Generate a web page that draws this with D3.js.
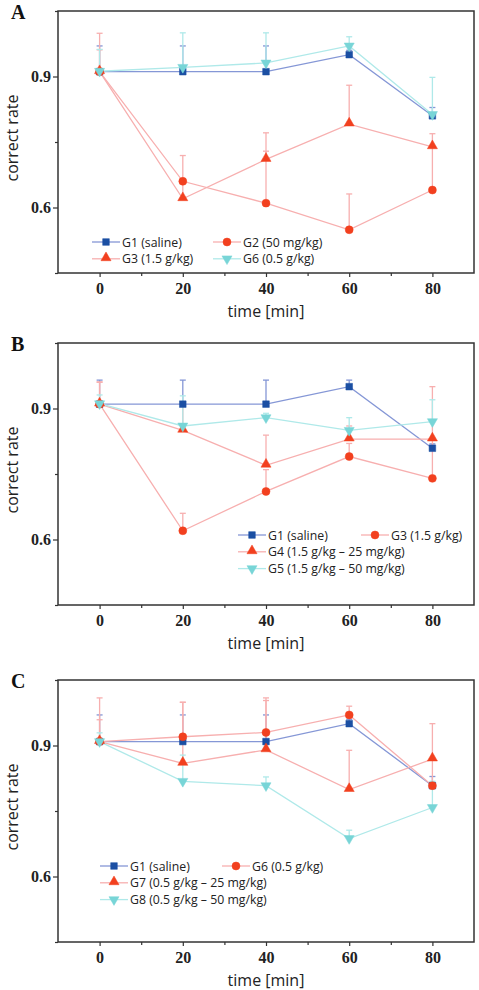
<!DOCTYPE html>
<html>
<head>
<meta charset="utf-8">
<script src="https://cdn.jsdelivr.net/npm/d3@7"></script>
<style>
  body { margin: 0; background: #fff; }
  svg { display: block; }
  .tick-label { font-family: "Liberation Serif", "DejaVu Serif", serif; font-weight: bold; font-size: 16px; fill: #222; }
  .axis-title { font-family: "Open Sans", "Noto Sans", sans-serif; font-size: 16px; fill: #222; }
  .legend-text { font-family: "Open Sans", "Noto Sans", sans-serif; font-size: 12.3px; fill: #222; }
  .panel-label { font-family: "Liberation Serif", "DejaVu Serif", serif; font-size: 20px; font-weight: bold; fill: #111; }
</style>
</head>
<body>
<svg id="chart" width="479" height="990"></svg>
<script>
const times = [0, 20, 40, 60, 80];
const xTicks = [0, 20, 40, 60, 80];
const yTicks = [0.6, 0.9];

// panel A
const A_G1 = [0.911, 0.911, 0.911, 0.950, 0.810];
const A_G1_err = [0.059, 0.059, 0.059, 0.010, 0.019];
const A_G2 = [0.911, 0.660, 0.610, 0.549, 0.640];
const A_G2_err = [0.088, 0.059, 0.119, 0.082, 0.100];
const A_G3 = [0.911, 0.620, 0.710, 0.791, 0.739];
const A_G3_err = [0.050, 0.040, 0.061, 0.089, 0.030];
const A_G6 = [0.912, 0.921, 0.931, 0.970, 0.813];
const A_G6_err = [0.050, 0.079, 0.069, 0.021, 0.085];

// panel B
const B_G1 = [0.910, 0.910, 0.910, 0.950, 0.809];
const B_G1_err = [0.055, 0.055, 0.055, 0.015, 0.010];
const B_G3 = [0.910, 0.620, 0.710, 0.790, 0.740];
const B_G3_err = [0.050, 0.040, 0.050, 0.030, 0.090];
const B_G4 = [0.910, 0.850, 0.770, 0.830, 0.830];
const B_G4_err = [0.051, 0.060, 0.069, 0.030, 0.120];
const B_G5 = [0.911, 0.860, 0.879, 0.850, 0.870];
const B_G5_err = [0.020, 0.069, 0.010, 0.029, 0.050];

// panel C
const C_G1 = [0.909, 0.909, 0.909, 0.950, 0.808];
const C_G1_err = [0.061, 0.061, 0.061, 0.010, 0.021];
const C_G6 = [0.909, 0.920, 0.930, 0.970, 0.808];
const C_G6_err = [0.100, 0.079, 0.079, 0.020, 0.060];
const C_G7 = [0.909, 0.859, 0.890, 0.799, 0.869];
const C_G7_err = [0.050, 0.140, 0.113, 0.090, 0.081];
const C_G8 = [0.909, 0.818, 0.808, 0.687, 0.758];
const C_G8_err = [0.020, 0.060, 0.020, 0.019, 0.060];

const style = {
    blue: {marker: "#1b4fa3", line: "#8597d6"},
    red: {marker: "#f2401f", line: "#f7afaf"},
    cyan: {marker: "#78d5d7", line: "#afe9e9"}
};

const panels = [
    {label: "A", top: 11,
     series: [
        {name: "G1 (saline)", values: A_G1, err: A_G1_err, color: style.blue, shape: "square"},
        {name: "G2 (50 mg/kg)", values: A_G2, err: A_G2_err, color: style.red, shape: "circle"},
        {name: "G3 (1.5 g/kg)", values: A_G3, err: A_G3_err, color: style.red, shape: "up"},
        {name: "G6 (0.5 g/kg)", values: A_G6, err: A_G6_err, color: style.cyan, shape: "down"}],
     legend: {x: 92, y: 242, col2: 213, rows: [[0, 1], [2, 3]]}},
    {label: "B", top: 343,
     series: [
        {name: "G1 (saline)", values: B_G1, err: B_G1_err, color: style.blue, shape: "square"},
        {name: "G3 (1.5 g/kg)", values: B_G3, err: B_G3_err, color: style.red, shape: "circle"},
        {name: "G4 (1.5 g/kg – 25 mg/kg)", values: B_G4, err: B_G4_err, color: style.red, shape: "up"},
        {name: "G5 (1.5 g/kg – 50 mg/kg)", values: B_G5, err: B_G5_err, color: style.cyan, shape: "down"}],
     legend: {x: 238, y: 535, col2: 361, rows: [[0, 1], [2], [3]]}},
    {label: "C", top: 680,
     series: [
        {name: "G1 (saline)", values: C_G1, err: C_G1_err, color: style.blue, shape: "square"},
        {name: "G6 (0.5 g/kg)", values: C_G6, err: C_G6_err, color: style.red, shape: "circle"},
        {name: "G7 (0.5 g/kg – 25 mg/kg)", values: C_G7, err: C_G7_err, color: style.red, shape: "up"},
        {name: "G8 (0.5 g/kg – 50 mg/kg)", values: C_G8, err: C_G8_err, color: style.cyan, shape: "down"}],
     legend: {x: 100, y: 866, col2: 222, rows: [[0, 1], [2], [3]]}}
];

const svg = d3.select("#chart");
const plotLeft = 58, plotWidth = 416, plotHeight = 262;

const symbolFor = {
    square: d3.symbol().type(d3.symbolSquare).size(44),
    circle: d3.symbol().type(d3.symbolCircle).size(50),
    up: d3.symbol().type(d3.symbolTriangle).size(44),
    down: d3.symbol().type(d3.symbolTriangle).size(44)
};

function drawMarker(g, shape, color, cx, cy) {
    g.append("path")
        .attr("d", symbolFor[shape]())
        .attr("transform", `translate(${cx},${cy})${shape === "down" ? " rotate(180)" : ""}${shape === "up" ? " translate(0,-1)" : ""}`)
        .attr("fill", color)
        .attr("stroke", color)
        .attr("stroke-width", 0.5);
}

function drawPanel(p) {
    const g = svg.append("g").attr("transform", `translate(${plotLeft},${p.top})`);
    const x = d3.scaleLinear().domain([-10, 90]).range([0, plotWidth]);
    const y = d3.scaleLinear().domain([0.45, 1.05]).range([plotHeight, 0]);

    // frame
    g.append("rect")
        .attr("width", plotWidth).attr("height", plotHeight)
        .attr("fill", "none").attr("stroke", "#333").attr("stroke-width", 1.5);

    // x axis
    const xAxis = g.append("g").attr("transform", `translate(0,${plotHeight})`)
        .call(d3.axisBottom(x).tickValues(xTicks).tickSize(4).tickPadding(6).tickFormat(d3.format("d")));
    xAxis.select(".domain").remove();
    xAxis.selectAll("line").attr("stroke", "#333").attr("stroke-width", 1.2);
    xAxis.selectAll("text").attr("class", "tick-label").attr("font-family", null).attr("font-size", null).attr("fill", null);
    g.append("g").attr("transform", `translate(0,${plotHeight})`)
        .call(d3.axisBottom(x).tickValues([10, 30, 50, 70]).tickSize(3).tickFormat(""))
        .call(a => a.select(".domain").remove())
        .selectAll("line").attr("stroke", "#333").attr("stroke-width", 1.2);

    // y axis
    const yAxis = g.append("g")
        .call(d3.axisLeft(y).tickValues(yTicks).tickSize(5).tickPadding(2).tickFormat(d3.format(".1f")));
    yAxis.select(".domain").remove();
    yAxis.selectAll("line").attr("stroke", "#333").attr("stroke-width", 1.2);
    yAxis.selectAll("text").attr("class", "tick-label").attr("font-family", null).attr("font-size", null).attr("fill", null);
    g.append("g")
        .call(d3.axisLeft(y).tickValues([0.45, 0.75, 1.05]).tickSize(3).tickFormat(""))
        .call(a => a.select(".domain").remove())
        .selectAll("line").attr("stroke", "#333").attr("stroke-width", 1.2);

    // titles
    g.append("text").attr("class", "axis-title")
        .attr("x", x(40)).attr("y", plotHeight + 44)
        .attr("text-anchor", "middle").text("time [min]");
    g.append("text").attr("class", "axis-title")
        .attr("transform", "rotate(-90)")
        .attr("x", -plotHeight / 2 + 4).attr("y", -40)
        .attr("text-anchor", "middle").text("correct rate");
    svg.append("text").attr("class", "panel-label")
        .attr("x", 11).attr("y", p.top + 8).text(p.label);

    const line = d3.line().x((d, i) => x(times[i])).y(d => y(d));

    p.series.forEach(s => {
        // upper error bars
        s.values.forEach((v, i) => {
            const cx = x(times[i]), y0 = y(v), y1 = y(v + s.err[i]);
            g.append("line").attr("x1", cx).attr("x2", cx).attr("y1", y0).attr("y2", y1)
                .attr("stroke", s.color.line).attr("stroke-width", 1.3);
            g.append("line").attr("x1", cx - 3).attr("x2", cx + 3).attr("y1", y1).attr("y2", y1)
                .attr("stroke", s.color.line).attr("stroke-width", 1.3);
        });
        g.append("path").datum(s.values)
            .attr("d", line).attr("fill", "none")
            .attr("stroke", s.color.line).attr("stroke-width", 1.3);
    });
    p.series.forEach(s => {
        s.values.forEach((v, i) => drawMarker(g, s.shape, s.color.marker, x(times[i]), y(v)));
    });

    // legend
    const L = p.legend;
    L.rows.forEach((row, r) => {
        row.forEach((si, c) => {
            const s = p.series[si];
            const lx = c === 0 ? L.x : L.col2;
            const ly = L.y + r * 16.8;
            svg.append("line").attr("x1", lx).attr("x2", lx + 28).attr("y1", ly).attr("y2", ly)
                .attr("stroke", s.color.line).attr("stroke-width", 1.3);
            drawMarker(svg, s.shape, s.color.marker, lx + 14, ly);
            svg.append("text").attr("class", "legend-text")
                .attr("x", lx + 30).attr("y", ly + 4.5).text(s.name);
        });
    });
}

panels.forEach(drawPanel);
</script>
</body>
</html>
